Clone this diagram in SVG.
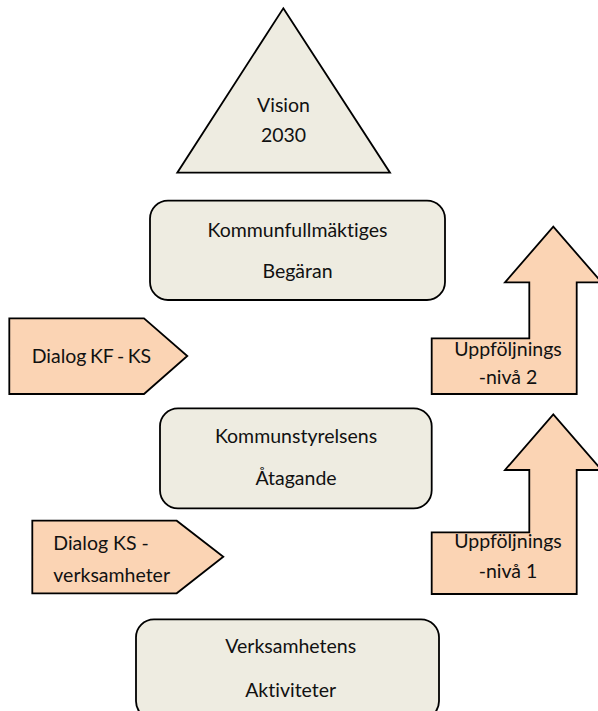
<svg xmlns="http://www.w3.org/2000/svg" width="598" height="711" viewBox="0 0 598 711">
<style>
.box{fill:#EEECE1;stroke:#000;stroke-width:1.8}
.arr{fill:#FBD4B4;stroke:#000;stroke-width:1.8;stroke-linejoin:miter}
text{font-family:Lato,"Open Sans","Liberation Sans",sans-serif;font-size:19.5px;fill:#111;font-variant-ligatures:none}
.c{text-anchor:middle}
</style>
<rect width="598" height="711" fill="#fff"/>
<g id="vision">
<polygon class="box" points="283.3,8.3 390,172.7 177.3,172.7"/>
<text class="c" x="283.5" y="111.5">Vision</text>
<text class="c" x="283.5" y="141.5">2030</text>
</g>
<g id="kf">
<rect class="box" x="150" y="200.7" width="295" height="99.3" rx="18"/>
<text class="c" x="297.5" y="236.5">Kommunfullmäktiges</text>
<text class="c" x="297.5" y="278">Begäran</text>
</g>
<g id="dialog-kf-ks">
<polygon class="arr" points="9.3,318.3 144,318.3 187.3,356 144,394 9.3,394"/>
<text x="31.7" y="363.3" word-spacing="-1.5">Dialog KF - KS</text>
</g>
<g id="uppfoljning-2">
<polygon class="arr" points="431.7,338.3 529.3,338.3 529.3,282.3 505,282.3 553.3,226.7 601.6,282.3 576.7,282.3 576.7,394 431.7,394"/>
<text class="c" x="508" y="356">Uppföljnings</text>
<text class="c" x="508" y="384">-nivå 2</text>
</g>
<g id="ks">
<rect class="box" x="160" y="408.3" width="271.7" height="100" rx="18"/>
<text class="c" x="296" y="443.3">Kommunstyrelsens</text>
<text class="c" x="296" y="485">Åtagande</text>
</g>
<g id="dialog-ks-verksamheter">
<polygon class="arr" points="32.3,520.7 176.7,520.7 223.3,556.7 176.7,593.3 32.3,593.3"/>
<text x="53.3" y="550">Dialog KS -</text>
<text x="53.3" y="581.7">verksamheter</text>
</g>
<g id="uppfoljning-1">
<polygon class="arr" points="431.7,532.3 529.3,532.3 529.3,470 505,470 553.3,414.4 601.6,470 576.7,470 576.7,594 431.7,594"/>
<text class="c" x="508" y="548.3">Uppföljnings</text>
<text class="c" x="508" y="578.3">-nivå 1</text>
</g>
<g id="verksamhet">
<rect class="box" x="136" y="619.3" width="303" height="100" rx="18"/>
<text class="c" x="290.7" y="653.3">Verksamhetens</text>
<text class="c" x="290.7" y="696.7">Aktiviteter</text>
</g>
<g id="connectors"></g>
</svg>
